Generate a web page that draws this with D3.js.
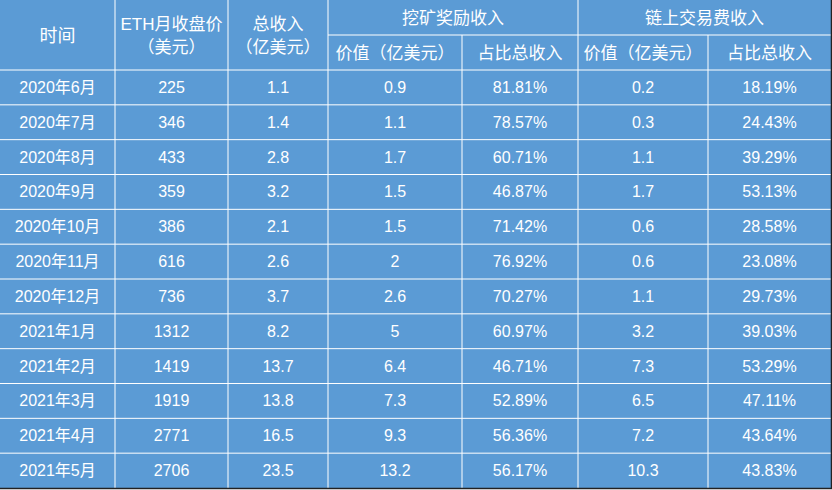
<!DOCTYPE html>
<html><head><meta charset="utf-8">
<script src="https://cdn.jsdelivr.net/npm/d3@7"></script>
<style>body{margin:0;background:#fff}</style>
</head><body><div id="chart"></div>
<script>
const months = ["2020年6月","2020年7月","2020年8月","2020年9月","2020年10月","2020年11月","2020年12月","2021年1月","2021年2月","2021年3月","2021年4月","2021年5月"];
const ethPrice = ["225","346","433","359","386","616","736","1312","1419","1919","2771","2706"];
const totalIncome = ["1.1","1.4","2.8","3.2","2.1","2.6","3.7","8.2","13.7","13.8","16.5","23.5"];
const miningValue = ["0.9","1.1","1.7","1.5","1.5","2","2.6","5","6.4","7.3","9.3","13.2"];
const miningShare = ["81.81%","78.57%","60.71%","46.87%","71.42%","76.92%","70.27%","60.97%","46.71%","52.89%","56.36%","56.17%"];
const feeValue = ["0.2","0.3","1.1","1.7","0.6","0.6","1.1","3.2","7.3","6.5","7.2","10.3"];
const feeShare = ["18.19%","24.43%","39.29%","53.13%","28.58%","23.08%","29.73%","39.03%","53.29%","47.11%","43.64%","43.83%"];

const colX = [0,115,228,328,462,578,708,831];
const W = 832, H = 490, headH = 70, bottom = 488;
const svg = d3.select("#chart").append("svg").attr("width", W).attr("height", H)
  .style("font-family", "'Liberation Sans','Noto Sans CJK SC',sans-serif");
svg.append("rect").attr("width", 831).attr("height", bottom).attr("fill", "#5b9bd5");

const y = d3.scaleBand().domain(d3.range(months.length)).range([headH, bottom]);
const cols = [months, ethPrice, totalIncome, miningValue, miningShare, feeValue, feeShare];

const line = (x1,y1,x2,y2) => svg.append("line").attr("x1",x1).attr("y1",y1).attr("x2",x2).attr("y2",y2)
  .attr("stroke","#fff").attr("stroke-width",1);

// grid
d3.range(months.length).forEach(i => line(0, y(i), 831, y(i)));
line(colX[3], 35, colX[7], 35);
colX.slice(1, 7).forEach((x, i) => {
  const c = i + 1;
  line(x, (c === 4 || c === 6) ? 35 : 0, x, bottom);
});
// dark outer edges
svg.append("line").attr("x1",0).attr("y1",bottom+0.5).attr("x2",832).attr("y2",bottom+0.5).attr("stroke","#222").attr("stroke-width",1.5);
svg.append("line").attr("x1",831.5).attr("y1",0).attr("x2",831.5).attr("y2",bottom).attr("stroke","#222").attr("stroke-width",1.5);

const text = (x, yy, s, size) => svg.append("text").attr("x", x).attr("y", yy)
  .attr("text-anchor","middle").attr("dominant-baseline","central")
  .attr("fill","#fff").attr("font-size", size).text(s);

// headers
const mid = c => (colX[c] + colX[c+1]) / 2;
text(mid(0), 36, "时间", 18);
text(mid(1), 24, "ETH月收盘价", 17); text(mid(1), 47, "（美元）", 17);
text(mid(2), 24, "总收入", 17); text(mid(2), 47, "（亿美元）", 17);
text((colX[3]+colX[5])/2, 18, "挖矿奖励收入", 17);
text((colX[5]+colX[7])/2, 18, "链上交易费收入", 17);
text(mid(3), 53, "价值（亿美元）", 17); text(mid(4), 53, "占比总收入", 17);
text(mid(5), 53, "价值（亿美元）", 17); text(mid(6), 53, "占比总收入", 17);

// body
cols.forEach((arr, c) => arr.forEach((v, i) => text(mid(c), y(i) + y.bandwidth()/2, v, 16)));
</script></body></html>
